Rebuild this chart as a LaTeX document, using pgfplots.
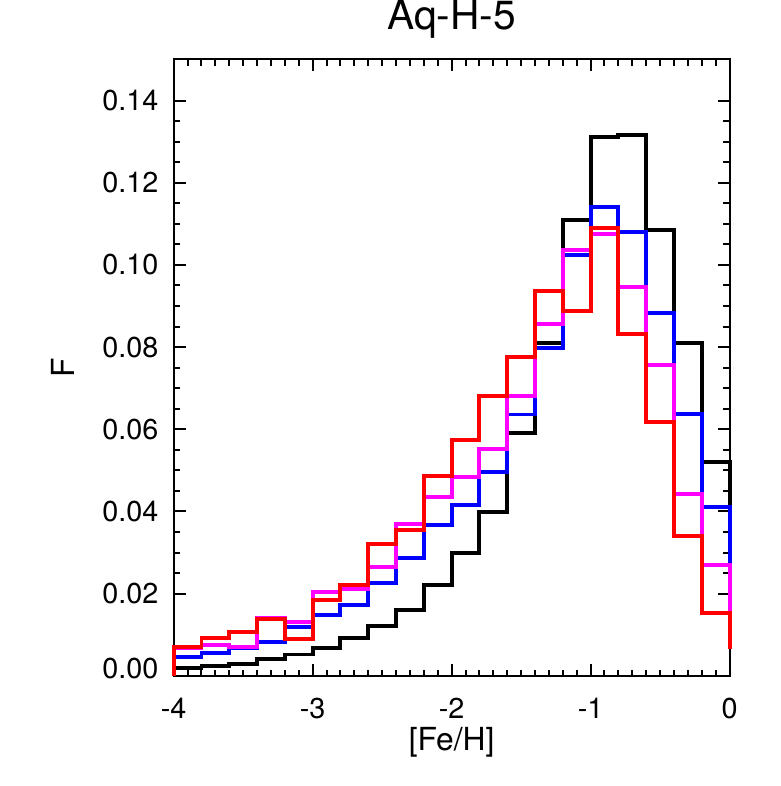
\documentclass[border=0pt]{standalone}
\usepackage{fontspec}
\setmainfont{TeX Gyre Heros}
\usepackage{pgfplots}
\pgfplotsset{compat=1.18}
\definecolor{idlmag}{RGB}{255,0,255}
\definecolor{idlblue}{RGB}{0,0,255}
\definecolor{idlred}{RGB}{255,0,0}
\begin{document}%
\begin{tikzpicture}%
\begin{axis}[
  scale only axis,
  width=280pt, height=310.5pt,
  xmin=-4, xmax=0, ymin=0, ymax=0.15,
  clip=false,
  axis line style={line width=1pt},
  every tick/.style={line width=1pt, black},
  major tick length=6pt, minor tick length=3.2pt,
  tick align=inside, tick pos=both, ticklabel pos=left,
  xtick={-4,-3,-2,-1,0}, xticklabels={-4,-3,-2,-1,0},
  ytick={0.02,0.04,0.06,0.08,0.10,0.12,0.14},
  yticklabels={0.02,0.04,0.06,0.08,0.10,0.12,0.14},
  extra y ticks={0}, extra y tick labels={0.00},
  extra y tick style={yticklabel style={yshift=3.5pt}},
  minor x tick num=9, minor y tick num=3,
  xticklabel style={font=\fontsize{14.5}{17}\selectfont, inner sep=0pt, anchor=base, yshift=-21.5pt},
  yticklabel style={font=\fontsize{14.5}{17}\selectfont, inner sep=0pt, anchor=east, xshift=-7.5pt},
  xlabel={[Fe/H]}, ylabel={F},
  xlabel style={font=\fontsize{16}{19}\selectfont, at={(axis description cs:0.5,-0.1079)}, anchor=center, inner sep=0pt},
  ylabel style={font=\fontsize{16}{19}\selectfont, at={(axis description cs:-0.2,0.5)}, anchor=center, inner sep=0pt},
  title={Aq-H-5},
  title style={font=\fontsize{20.5}{22}\selectfont, at={(axis description cs:0.5,1.029)}, anchor=base, inner sep=0pt},
]
\path (rel axis cs:-0.3125,-0.1787) rectangle (rel axis cs:1.0911,1.0870);
\addplot[const plot mark left, black, line width=2pt] coordinates {
(-4,0) (-4,0.0020) (-3.8,0.0023) (-3.6,0.0030) (-3.4,0.0040) (-3.2,0.0052) (-3.0,0.0067) (-2.8,0.0093) (-2.6,0.0121) (-2.4,0.0161) (-2.2,0.0222)
(-2.0,0.0299) (-1.8,0.0399) (-1.6,0.0592) (-1.4,0.0809) (-1.2,0.1109) (-1.0,0.1311) (-0.8,0.1316) (-0.6,0.1085) (-0.4,0.0811) (-0.2,0.0521) (0,0.040)};
\addplot[const plot mark left, idlblue, line width=2pt] coordinates {
(-4,0) (-4,0.0046) (-3.8,0.0056) (-3.6,0.0067) (-3.4,0.0082) (-3.2,0.0119) (-3.0,0.0147) (-2.8,0.0173) (-2.6,0.0225) (-2.4,0.0287) (-2.2,0.0367)
(-2.0,0.0415) (-1.8,0.0497) (-1.6,0.0636) (-1.4,0.0797) (-1.2,0.1023) (-1.0,0.1142) (-0.8,0.1081) (-0.6,0.0882) (-0.4,0.0638) (-0.2,0.0412) (0,0.026)};
\addplot[const plot mark left, idlmag, line width=2pt] coordinates {
(-4,0) (-4,0.0068) (-3.8,0.0074) (-3.6,0.0071) (-3.4,0.0141) (-3.2,0.0131) (-3.0,0.0204) (-2.8,0.0212) (-2.6,0.0264) (-2.4,0.0370) (-2.2,0.0436)
(-2.0,0.0483) (-1.8,0.0553) (-1.6,0.0680) (-1.4,0.0856) (-1.2,0.1037) (-1.0,0.1075) (-0.8,0.0946) (-0.6,0.0757) (-0.4,0.0443) (-0.2,0.0270) (0,0.014)};
\addplot[const plot mark left, idlred, line width=2pt] coordinates {
(-4,0) (-4,0.0070) (-3.8,0.0093) (-3.6,0.0107) (-3.4,0.0139) (-3.2,0.0089) (-3.0,0.0184) (-2.8,0.0221) (-2.6,0.0320) (-2.4,0.0354) (-2.2,0.0487)
(-2.0,0.0574) (-1.8,0.0680) (-1.6,0.0777) (-1.4,0.0937) (-1.2,0.0888) (-1.0,0.1089) (-0.8,0.0832) (-0.6,0.0618) (-0.4,0.0341) (-0.2,0.0153) (0,0.0065)};
\end{axis}%
\end{tikzpicture}%
\end{document}
